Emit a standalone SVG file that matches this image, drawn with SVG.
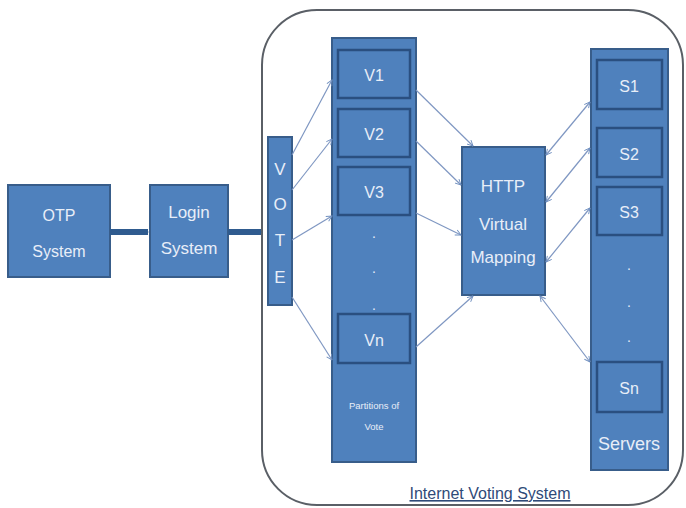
<svg xmlns="http://www.w3.org/2000/svg" width="686" height="508" viewBox="0 0 686 508">
<defs>
<marker id="ah" viewBox="0 0 10 10" refX="9" refY="5" markerWidth="7" markerHeight="7" orient="auto-start-reverse" markerUnits="userSpaceOnUse"><path d="M1,1 L9,5 L1,9" fill="none" stroke="#6f8fbf" stroke-width="1.3"/></marker>
<marker id="ahb" viewBox="0 0 10 10" refX="8" refY="5" markerWidth="5" markerHeight="5" orient="auto" markerUnits="userSpaceOnUse"><path d="M0,0 L10,5 L0,10 Z" fill="#2f5b8f"/></marker>
<style>
.box{fill:#4f81bd;stroke:#385d8a;stroke-width:2}
.inner{fill:#4f81bd;stroke:#2a4f80;stroke-width:2.5}
.t{font-family:"Liberation Sans",Arial,sans-serif;fill:#e8eef8;text-anchor:middle}
.c{stroke:#7f97c2;stroke-width:1.2;fill:none}
.thick{stroke:#2f5b8f;stroke-width:6;fill:none}
</style>
</defs>
<rect x="262" y="10" width="421" height="495" rx="55" fill="#fff" stroke="#5a5f66" stroke-width="2"/>
<g id="otp"><rect class="box" x="8" y="185" width="102" height="92"/><text class="t" x="59" y="221" font-size="16">OTP</text><text class="t" x="59" y="257" font-size="16">System</text></g>
<g id="login"><rect class="box" x="150" y="185" width="78" height="92"/><text class="t" x="189" y="218" font-size="17">Login</text><text class="t" x="189" y="254" font-size="17">System</text></g>
<g id="vote"><rect class="box" x="268" y="137" width="24" height="168"/><text class="t" x="280" y="175" font-size="17">V</text><text class="t" x="280" y="210" font-size="17">O</text><text class="t" x="280" y="246" font-size="17">T</text><text class="t" x="280" y="283" font-size="17">E</text></g>
<g id="partitions"><rect class="box" x="332" y="38" width="84" height="424"/>
<rect class="inner" x="338" y="50" width="72" height="48"/><text class="t" x="374" y="81" font-size="16">V1</text>
<rect class="inner" x="338" y="109" width="72" height="48"/><text class="t" x="374" y="140" font-size="16">V2</text>
<rect class="inner" x="338" y="167" width="72" height="48"/><text class="t" x="374" y="198" font-size="16">V3</text>
<text class="t" x="374" y="238" font-size="14">.</text><text class="t" x="374" y="273" font-size="14">.</text><text class="t" x="374" y="310" font-size="14">.</text>
<rect class="inner" x="338" y="314" width="72" height="49"/><text class="t" x="374" y="346" font-size="16">Vn</text>
<text class="t" x="374" y="409" font-size="9.5">Partitions of</text><text class="t" x="374" y="430" font-size="9.5">Vote</text></g>
<g id="http"><rect class="box" x="462" y="147" width="83" height="148"/><text class="t" x="503" y="192" font-size="17">HTTP</text><text class="t" x="503" y="230" font-size="17">Virtual</text><text class="t" x="503" y="263" font-size="17">Mapping</text></g>
<g id="servers"><rect class="box" x="591" y="49" width="77" height="421"/>
<rect class="inner" x="597" y="60" width="65" height="49"/><text class="t" x="629" y="92" font-size="16">S1</text>
<rect class="inner" x="597" y="128" width="65" height="49"/><text class="t" x="629" y="160" font-size="16">S2</text>
<rect class="inner" x="597" y="187" width="65" height="48"/><text class="t" x="629" y="218" font-size="16">S3</text>
<text class="t" x="629" y="270" font-size="14">.</text><text class="t" x="629" y="307" font-size="14">.</text><text class="t" x="629" y="342" font-size="14">.</text>
<rect class="inner" x="597" y="362" width="65" height="50"/><text class="t" x="629" y="394" font-size="16">Sn</text>
<text class="t" x="629" y="450" font-size="18">Servers</text></g>
<g id="title"><text x="490" y="499" font-family="'Liberation Sans',Arial,sans-serif" font-size="16" fill="#2f4a78" text-anchor="middle" text-decoration="underline">Internet Voting System</text></g>
<g id="connectors">
<line class="thick" x1="110" y1="232" x2="148" y2="232" marker-end="url(#ahb)"/>
<line class="thick" x1="228" y1="232" x2="261" y2="232" marker-end="url(#ahb)"/>
<line class="c" x1="292" y1="155" x2="332" y2="80" marker-end="url(#ah)"/>
<line class="c" x1="292" y1="190" x2="332" y2="139" marker-end="url(#ah)"/>
<line class="c" x1="292" y1="240" x2="332" y2="216" marker-end="url(#ah)"/>
<line class="c" x1="292" y1="297" x2="332" y2="360" marker-end="url(#ah)"/>
<line class="c" x1="416" y1="90" x2="473" y2="146" marker-end="url(#ah)"/>
<line class="c" x1="416" y1="141" x2="461" y2="185" marker-end="url(#ah)"/>
<line class="c" x1="416" y1="213" x2="461" y2="235" marker-end="url(#ah)"/>
<line class="c" x1="416" y1="347" x2="473" y2="296" marker-end="url(#ah)"/>
<line class="c" x1="546" y1="155" x2="590" y2="102" marker-start="url(#ah)" marker-end="url(#ah)"/>
<line class="c" x1="546" y1="202" x2="590" y2="148" marker-start="url(#ah)" marker-end="url(#ah)"/>
<line class="c" x1="546" y1="262" x2="590" y2="208" marker-start="url(#ah)" marker-end="url(#ah)"/>
<line class="c" x1="540" y1="296" x2="590" y2="362" marker-start="url(#ah)" marker-end="url(#ah)"/>
</g>
</svg>
